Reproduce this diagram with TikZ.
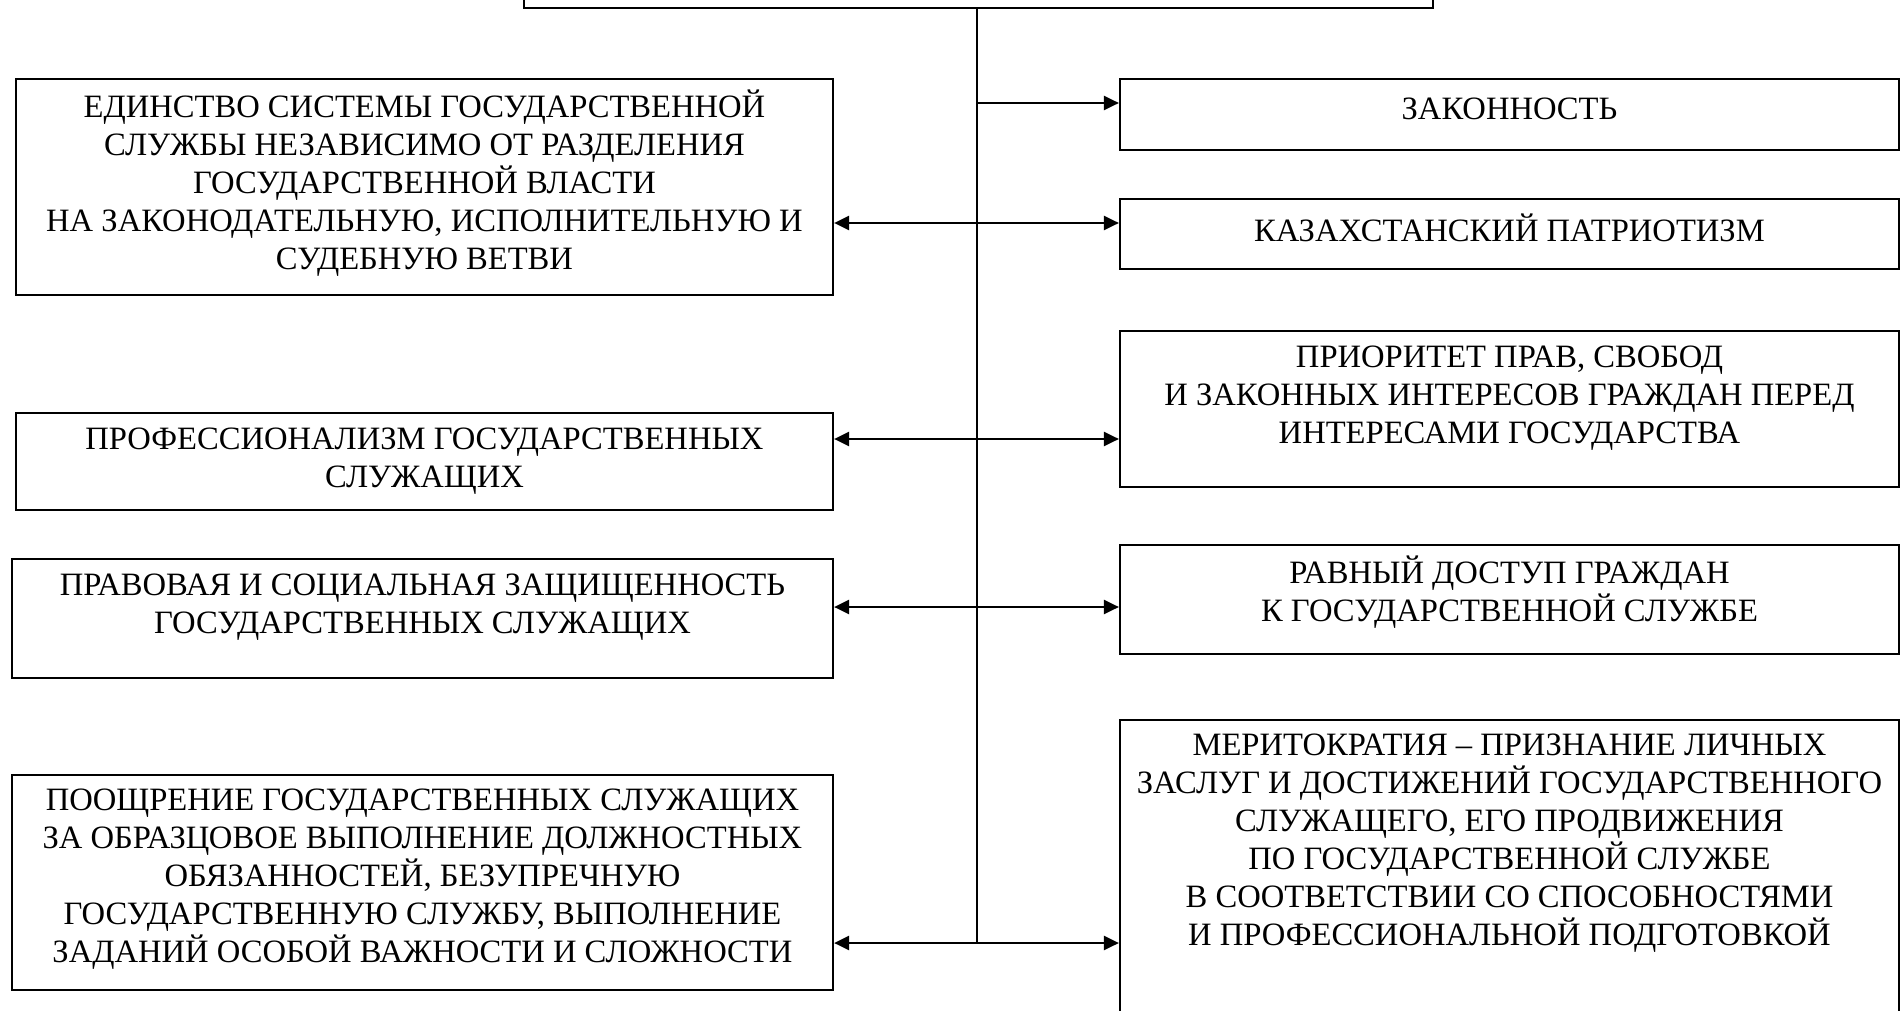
\documentclass[tikz,border=0pt]{standalone}
\usepackage{fontspec}
\setmainfont{Liberation Serif}
\usetikzlibrary{arrows.meta,calc}
\begin{document}
\begin{tikzpicture}[x=1pt,y=-1pt,
  box/.style={draw=black,line width=2.2pt,inner sep=0pt,fill=white},
  txt/.style={align=center,inner sep=0pt,font=\fontsize{32.6}{38}\selectfont},
  trunkline/.style={line width=2pt},
  arr/.style={line width=2.4pt,-{Triangle[length=15pt,width=14pt]}},
  darr/.style={line width=2.4pt,{Triangle[length=15pt,width=14pt]}-{Triangle[length=15pt,width=14pt]}}]
\useasboundingbox (0,0) rectangle (1903,1011);
% boxes
\node[box,minimum width=909pt,minimum height=80pt] (top) at (978.5,-32) {};
\node[box,minimum width=817pt,minimum height=216pt] (L1) at (424.5,187) {};
\node[box,minimum width=817pt,minimum height=97pt] (L2) at (424.5,461.5) {};
\node[box,minimum width=821pt,minimum height=119pt] (L3) at (422.5,618.5) {};
\node[box,minimum width=821pt,minimum height=215pt] (L4) at (422.5,882.5) {};
\node[box,minimum width=779pt,minimum height=71pt] (R1) at (1509.5,114.5) {};
\node[box,minimum width=779pt,minimum height=70pt] (R2) at (1509.5,234) {};
\node[box,minimum width=779pt,minimum height=156pt] (R3) at (1509.5,409) {};
\node[box,minimum width=779pt,minimum height=109pt] (R4) at (1509.5,599.5) {};
\node[box,minimum width=779pt,minimum height=340pt] (R5) at (1509.5,890) {};
% texts
\node[txt] (tL1) at (424.5,183) {ЕДИНСТВО СИСТЕМЫ ГОСУДАРСТВЕННОЙ\\СЛУЖБЫ НЕЗАВИСИМО ОТ РАЗДЕЛЕНИЯ\\ГОСУДАРСТВЕННОЙ ВЛАСТИ\\НА ЗАКОНОДАТЕЛЬНУЮ, ИСПОЛНИТЕЛЬНУЮ И\\СУДЕБНУЮ ВЕТВИ};
\node[txt] (tL2) at (424.5,461) {ПРОФЕССИОНАЛИЗМ ГОСУДАРСТВЕННЫХ\\СЛУЖАЩИХ};
\node[txt] (tL3) at (422.5,607) {ПРАВОВАЯ И СОЦИАЛЬНАЯ ЗАЩИЩЕННОСТЬ\\ГОСУДАРСТВЕННЫХ СЛУЖАЩИХ};
\node[txt] (tL4) at (422.5,879) {ПООЩРЕНИЕ ГОСУДАРСТВЕННЫХ СЛУЖАЩИХ\\ЗА ОБРАЗЦОВОЕ ВЫПОЛНЕНИЕ ДОЛЖНОСТНЫХ\\ОБЯЗАННОСТЕЙ, БЕЗУПРЕЧНУЮ\\ГОСУДАРСТВЕННУЮ СЛУЖБУ, ВЫПОЛНЕНИЕ\\ЗАДАНИЙ ОСОБОЙ ВАЖНОСТИ И СЛОЖНОСТИ};
\node[txt] (tR1) at (1509.5,109) {ЗАКОННОСТЬ};
\node[txt] (tR2) at (1509.5,228) {КАЗАХСТАНСКИЙ ПАТРИОТИЗМ};
\node[txt] (tR3) at (1509.5,398) {ПРИОРИТЕТ ПРАВ, СВОБОД\\И ЗАКОННЫХ ИНТЕРЕСОВ ГРАЖДАН ПЕРЕД\\ИНТЕРЕСАМИ ГОСУДАРСТВА};
\node[txt] (tR4) at (1509.5,592) {РАВНЫЙ ДОСТУП ГРАЖДАН\\К ГОСУДАРСТВЕННОЙ СЛУЖБЕ};
\node[txt] (tR5) at (1509.5,843) {МЕРИТОКРАТИЯ – ПРИЗНАНИЕ ЛИЧНЫХ\\ЗАСЛУГ И ДОСТИЖЕНИЙ ГОСУДАРСТВЕННОГО\\СЛУЖАЩЕГО, ЕГО ПРОДВИЖЕНИЯ\\ПО ГОСУДАРСТВЕННОЙ СЛУЖБЕ\\В СООТВЕТСТВИИ СО СПОСОБНОСТЯМИ\\И ПРОФЕССИОНАЛЬНОЙ ПОДГОТОВКОЙ};
% trunk points
\coordinate (t1) at (977,103);
\coordinate (t2) at (977,223);
\coordinate (t3) at (977,439);
\coordinate (t4) at (977,607);
\coordinate (t5) at (977,943);
\draw[trunkline] (top.south -| t5) -- (t5);
\draw[arr] (t1) -- (t1 -| R1.west);
\draw[darr] (t2 -| L1.east) -- (t2 -| R2.west);
\draw[darr] (t3 -| L2.east) -- (t3 -| R3.west);
\draw[darr] (t4 -| L3.east) -- (t4 -| R4.west);
\draw[darr] (t5 -| L4.east) -- (t5 -| R5.west);
\end{tikzpicture}
\end{document}
